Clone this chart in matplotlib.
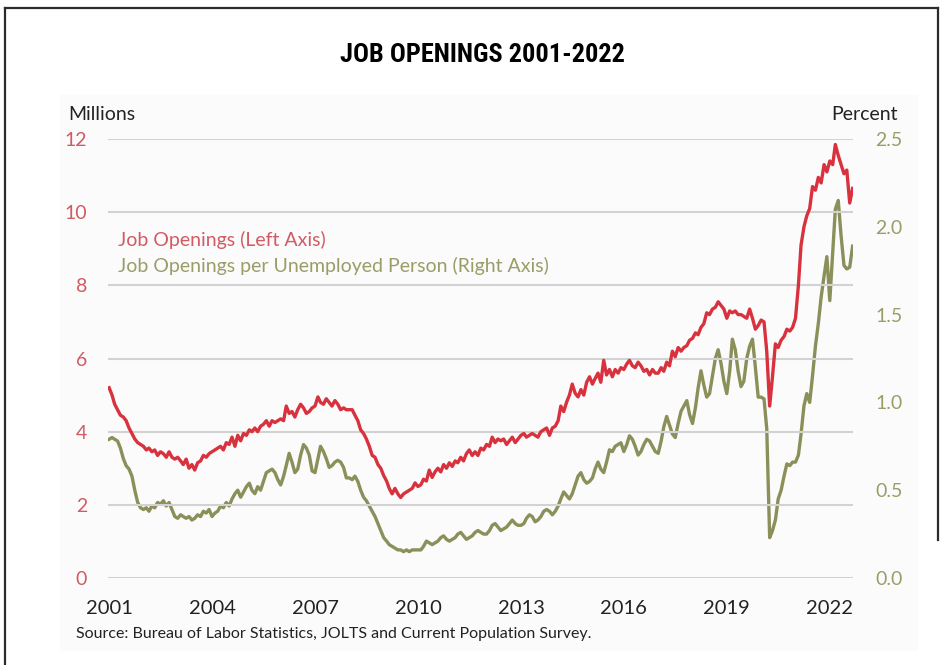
import numpy as np
import pandas as pd
import matplotlib
matplotlib.use('Agg')
import matplotlib.pyplot as plt
from matplotlib.lines import Line2D
from matplotlib.patches import Rectangle

# monthly job openings, millions (Jan 2001 - Sep 2022)
openings = [
    5.2, 5.0, 4.75, 4.6, 4.45, 4.4, 4.3, 4.1, 3.95, 3.8, 3.7, 3.65,       # 2001
    3.6, 3.5, 3.55, 3.45, 3.5, 3.35, 3.45, 3.4, 3.3, 3.45, 3.3, 3.25,     # 2002
    3.3, 3.2, 3.1, 3.25, 3.0, 3.1, 2.95, 3.15, 3.2, 3.35, 3.3, 3.4,       # 2003
    3.45, 3.5, 3.55, 3.6, 3.5, 3.7, 3.65, 3.85, 3.6, 3.9, 3.75, 3.95,     # 2004
    3.9, 4.05, 4.0, 4.1, 4.0, 4.15, 4.2, 4.3, 4.15, 4.3, 4.25, 4.3,       # 2005
    4.35, 4.3, 4.7, 4.5, 4.55, 4.4, 4.6, 4.75, 4.65, 4.5, 4.55, 4.65,     # 2006
    4.7, 4.95, 4.8, 4.75, 4.9, 4.8, 4.7, 4.85, 4.75, 4.6, 4.65, 4.6,      # 2007
    4.6, 4.6, 4.45, 4.3, 4.05, 3.95, 3.8, 3.6, 3.35, 3.3, 3.1, 3.0,       # 2008
    2.8, 2.65, 2.45, 2.3, 2.45, 2.3, 2.2, 2.3, 2.35, 2.4, 2.45, 2.6,      # 2009
    2.5, 2.55, 2.7, 2.65, 2.95, 2.75, 2.9, 3.0, 2.9, 3.1, 3.0, 3.15,      # 2010
    3.05, 3.2, 3.15, 3.3, 3.2, 3.4, 3.5, 3.35, 3.45, 3.35, 3.55, 3.5,     # 2011
    3.65, 3.6, 3.85, 3.7, 3.8, 3.75, 3.8, 3.65, 3.75, 3.85, 3.7, 3.8,     # 2012
    3.9, 3.95, 3.85, 3.9, 3.95, 3.9, 3.85, 4.0, 4.05, 4.1, 3.9, 4.1,      # 2013
    4.15, 4.3, 4.7, 4.55, 4.8, 5.0, 5.3, 5.05, 4.95, 5.15, 5.0, 5.35,     # 2014
    5.5, 5.3, 5.45, 5.6, 5.35, 5.95, 5.55, 5.7, 5.5, 5.7, 5.6, 5.75,      # 2015
    5.7, 5.85, 5.95, 5.8, 5.75, 5.9, 5.8, 5.65, 5.7, 5.55, 5.7, 5.6,      # 2016
    5.6, 5.75, 5.65, 5.9, 5.8, 6.2, 6.05, 6.3, 6.2, 6.3, 6.35, 6.5,       # 2017
    6.55, 6.7, 6.65, 6.85, 6.95, 7.25, 7.2, 7.35, 7.4, 7.55, 7.45, 7.35,  # 2018
    7.1, 7.3, 7.25, 7.3, 7.2, 7.2, 7.15, 7.1, 7.35, 7.1, 6.8, 6.9,        # 2019
    7.05, 7.0, 6.2, 4.7, 5.5, 6.4, 6.3, 6.5, 6.6, 6.8, 6.75, 6.85,        # 2020
    7.1, 8.0, 9.1, 9.6, 9.9, 10.1, 10.7, 10.6, 10.95, 10.8, 11.3, 11.1,   # 2021
    11.4, 11.3, 11.85, 11.55, 11.3, 11.05, 11.15, 10.25, 10.65,           # 2022
]

# job openings per unemployed person
per_unemployed = [
    0.79, 0.80, 0.79, 0.78, 0.74, 0.68, 0.64, 0.62, 0.58, 0.50, 0.43, 0.40,  # 2001
    0.39, 0.40, 0.38, 0.41, 0.40, 0.43, 0.42, 0.44, 0.41, 0.43, 0.39, 0.35,  # 2002
    0.34, 0.36, 0.35, 0.34, 0.35, 0.33, 0.34, 0.36, 0.35, 0.38, 0.37, 0.39,  # 2003
    0.35, 0.37, 0.38, 0.41, 0.40, 0.43, 0.41, 0.45, 0.48, 0.50, 0.46, 0.49,  # 2004
    0.52, 0.54, 0.50, 0.48, 0.52, 0.50, 0.55, 0.60, 0.61, 0.62, 0.60, 0.56,  # 2005
    0.53, 0.58, 0.64, 0.71, 0.66, 0.60, 0.62, 0.70, 0.76, 0.74, 0.70, 0.61,  # 2006
    0.60, 0.68, 0.75, 0.72, 0.68, 0.63, 0.64, 0.66, 0.67, 0.66, 0.63, 0.57,  # 2007
    0.57, 0.56, 0.58, 0.55, 0.50, 0.46, 0.44, 0.41, 0.38, 0.35, 0.31, 0.27,  # 2008
    0.23, 0.21, 0.19, 0.18, 0.17, 0.16, 0.16, 0.15, 0.16, 0.15, 0.16, 0.16,  # 2009
    0.16, 0.16, 0.18, 0.21, 0.20, 0.19, 0.20, 0.21, 0.23, 0.24, 0.22, 0.21,  # 2010
    0.22, 0.23, 0.25, 0.26, 0.24, 0.22, 0.23, 0.24, 0.26, 0.27, 0.26, 0.25,  # 2011
    0.25, 0.27, 0.30, 0.31, 0.29, 0.27, 0.28, 0.29, 0.31, 0.33, 0.31, 0.30,  # 2012
    0.30, 0.31, 0.34, 0.36, 0.35, 0.32, 0.33, 0.35, 0.38, 0.39, 0.38, 0.36,  # 2013
    0.38, 0.41, 0.45, 0.49, 0.47, 0.45, 0.48, 0.53, 0.58, 0.60, 0.56, 0.54,  # 2014
    0.55, 0.57, 0.62, 0.66, 0.62, 0.60, 0.66, 0.73, 0.72, 0.75, 0.76, 0.77,  # 2015
    0.72, 0.76, 0.81, 0.79, 0.75, 0.70, 0.72, 0.76, 0.79, 0.78, 0.75, 0.72,  # 2016
    0.71, 0.78, 0.86, 0.92, 0.87, 0.82, 0.80, 0.88, 0.95, 0.98, 1.01, 0.93,  # 2017
    0.88, 0.97, 1.08, 1.18, 1.10, 1.03, 1.05, 1.15, 1.25, 1.30, 1.22, 1.12,  # 2018
    1.05, 1.18, 1.36, 1.30, 1.18, 1.09, 1.12, 1.25, 1.32, 1.36, 1.20, 1.03,  # 2019
    1.03, 1.02, 0.85, 0.23, 0.27, 0.33, 0.45, 0.50, 0.58, 0.65, 0.64, 0.66,  # 2020
    0.66, 0.70, 0.82, 0.98, 1.05, 1.00, 1.15, 1.32, 1.45, 1.60, 1.72, 1.83,  # 2021
    1.58, 1.85, 2.10, 2.15, 1.95, 1.78, 1.76, 1.77, 1.89,                    # 2022
]

year_ticks = [2001, 2004, 2007, 2010, 2013, 2016, 2019, 2022]
left_ticks = [0, 2, 4, 6, 8, 10, 12]
right_ticks = [0.0, 0.5, 1.0, 1.5, 2.0, 2.5]

months = pd.date_range('2001-01-01', periods=len(openings), freq='MS')

RED = '#d8323e'
OLIVE = '#8b8f59'
RED_TXT = '#d25a64'
OLIVE_TXT = '#9a9d68'

plt.rcParams['font.family'] = ['Lato', 'DejaVu Sans']

fig = plt.figure(figsize=(9.47, 6.65), dpi=100)
W, H = 947, 665

def fx(px):
    return px / W

def fy(py):
    return 1 - py / H

# faint panel behind the chart and the page frame
fig.add_artist(Rectangle((fx(60), fy(650)), fx(917) - fx(60), fy(95) - fy(650),
                         transform=fig.transFigure, color='#fbfbfb', zorder=0))
frame = dict(transform=fig.transFigure, color='#2b2b2b', lw=1.6)
fig.add_artist(Line2D([fx(5), fx(5)], [fy(8), 0], **frame))
fig.add_artist(Line2D([fx(5), fx(938)], [fy(8), fy(8)], **frame))
fig.add_artist(Line2D([fx(938), fx(938)], [fy(8), fy(540)], **frame))

ax = fig.add_axes([fx(108), fy(578), fx(853) - fx(108), fy(139) - fy(578)])
ax2 = ax.twinx()

ax.plot(months, openings, color=RED, lw=2.4, solid_joinstyle='round')
ax2.plot(months, per_unemployed, color=OLIVE, lw=2.4, solid_joinstyle='round')

# keep the red series above the olive one
ax.set_zorder(ax2.get_zorder() + 1)
ax.patch.set_visible(False)

ax.set_xlim(pd.Timestamp('2000-12-20'), pd.Timestamp('2022-09-05'))
ax.set_ylim(0, 12)
ax2.set_ylim(0, 2.5)

ax.set_yticks(left_ticks)
ax.set_yticklabels([str(v) for v in left_ticks], color=RED_TXT, fontsize=14)
ax2.set_yticks(right_ticks)
ax2.set_yticklabels(['%.1f' % v for v in right_ticks], color=OLIVE_TXT, fontsize=14)
ax.set_xticks([pd.Timestamp(f'{y}-01-01') for y in year_ticks])
ax.set_xticklabels([str(y) for y in year_ticks], color='#222222', fontsize=14.5)

ax.tick_params(axis='y', length=0, pad=15)
ax2.tick_params(axis='y', length=0, pad=16)
ax.tick_params(axis='x', length=0, pad=16)
ax.grid(axis='y', color='#d2d2d2', lw=1.5)
ax.set_axisbelow(True)
for a in (ax, ax2):
    for s in a.spines.values():
        s.set_visible(False)

fig.text(fx(482), fy(55), 'JOB OPENINGS 2001-2022', ha='center', va='center',
         fontsize=19, fontweight='bold',
         family=['Roboto Condensed', 'Liberation Sans Narrow', 'Roboto', 'DejaVu Sans'])
fig.text(fx(68), fy(115), 'Millions', ha='left', va='center', fontsize=14, color='#222222')
fig.text(fx(898), fy(115), 'Percent', ha='right', va='center', fontsize=14, color='#222222')

fig.text(fx(118), fy(240), 'Job Openings (Left Axis)', ha='left', va='center',
         fontsize=14, color=RED_TXT)
fig.text(fx(118), fy(266), 'Job Openings per Unemployed Person (Right Axis)',
         ha='left', va='center', fontsize=14, color=OLIVE_TXT)

fig.text(fx(76), fy(634), 'Source: Bureau of Labor Statistics, JOLTS and Current Population Survey.',
         ha='left', va='center', fontsize=11.5, color='#222222')

fig.savefig('out.png', dpi=100, facecolor='white')
